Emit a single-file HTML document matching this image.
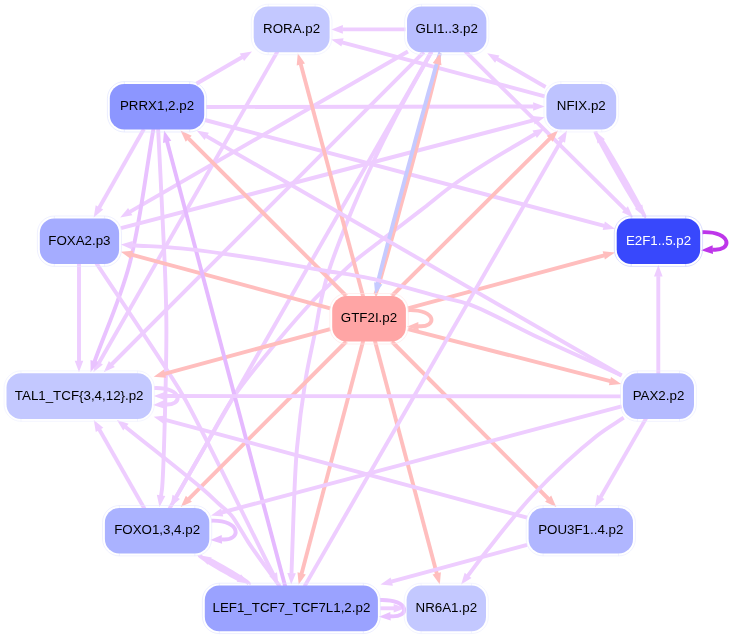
<!DOCTYPE html>
<html lang="en"><head><meta charset="utf-8"><title>Regulatory network</title>
<style>
html,body{margin:0;padding:0;background:#fff}
svg{display:block;will-change:transform}
svg text{font-family:"Liberation Sans",sans-serif;font-size:13.33px;text-anchor:middle}
</style></head><body>
<svg width="731" height="638" viewBox="0 0 731 638">
<rect width="731" height="638" fill="#fff"/>
<g fill="none" stroke-linecap="butt">
<path d="M702.2 232.2C732.7 231.2 732.7 251.7 712.3 249.6" stroke="#be36ea" stroke-width="3.9"/><polygon points="701.2,250.2 712.6,245.3 713,253.9" fill="#be36ea"/>
<path d="M644.3 216.6L644.4 216.6L644.2 215.6L643.3 213.5L641.8 210.4L639.8 206.5L637.3 201.9L634.5 196.6L631.3 190.9L627.9 184.8L624.3 178.5L620.7 172.1L617 165.8L613.4 159.6L609.9 153.7L606.7 148.2L603.7 143.3L601.8 140.4" stroke="#eecdff" stroke-width="3.9" stroke-linejoin="round"/><polygon points="595.4,131.4 604.9,139.3 597.5,143.6" fill="#eecdff"/>
<path d="M595.4 131.4L595.4 131.4L595.6 132.4L596.5 134.5L597.9 137.6L600 141.5L602.4 146.1L605.3 151.4L608.4 157.1L611.8 163.2L615.4 169.5L619.1 175.9L622.7 182.2L626.3 188.4L629.8 194.3L633.1 199.8L636.1 204.7L637.9 207.6" stroke="#eecdff" stroke-width="3.9" stroke-linejoin="round"/><polygon points="644.3,216.6 634.8,208.7 642.3,204.4" fill="#eecdff"/>
<path d="M545.6 87L496.8 58.8" stroke="#eecdff" stroke-width="3.9"/><polygon points="487.2,53.3 499.4,55.4 495.1,62.8" fill="#eecdff"/>
<path d="M544.7 96.3L342 42.3" stroke="#eecdff" stroke-width="3.9"/><polygon points="331.3,39.5 343.6,38.3 341.4,46.6" fill="#eecdff"/>
<path d="M405.5 29.4L342.4 29.4" stroke="#eecdff" stroke-width="3.9"/><polygon points="331.3,29.4 342.9,25.1 342.9,33.7" fill="#eecdff"/>
<path d="M407.9 51.5L129.8 211.9" stroke="#eecdff" stroke-width="3.9"/><polygon points="120.2,217.4 128.1,207.9 132.4,215.3" fill="#eecdff"/>
<path d="M423.8 52.2L111.5 364.5" stroke="#eecdff" stroke-width="3.9"/><polygon points="103.7,372.3 108.9,361.1 114.9,367.1" fill="#eecdff"/>
<path d="M431.5 51.7L176 497.3" stroke="#eecdff" stroke-width="3.9"/><polygon points="170.5,506.9 172.5,494.7 180,499" fill="#eecdff"/>
<path d="M431.4 51.7C419 74.4 404.3 100.2 394 120C386.2 134.9 381.2 144.8 374.4 159.5C366 177.4 355.8 200.4 347.9 220C340.6 238.1 332.9 258 328.2 272.8C324.9 283.3 323.3 290.7 321.2 300C319 309.7 317.7 318.7 315.5 330C312.7 344.6 308.4 361.9 305.5 380C302.1 401.1 298.9 426 296.9 449C294.9 472 294.3 496.2 293.4 518C292.6 537.5 292.2 555 291.5 573.5" stroke="#eecdff" stroke-width="3.9"/><polygon points="291.2,584.6 287.3,572.9 295.9,573.2" fill="#eecdff"/>
<path d="M465.1 51.1L625.2 209.6" stroke="#eecdff" stroke-width="3.9"/><polygon points="633.1,217.4 621.9,212.3 627.9,206.2" fill="#eecdff"/>
<path d="M277.5 51.4L99 362.7" stroke="#eecdff" stroke-width="3.9"/><polygon points="93.4,372.3 95.5,360.1 102.9,364.4" fill="#eecdff"/>
<path d="M196.4 83.7L242.4 57" stroke="#eecdff" stroke-width="3.9"/><polygon points="252,51.5 244.1,61 239.8,53.6" fill="#eecdff"/>
<path d="M206 107L533.6 106.5" stroke="#eecdff" stroke-width="3.9"/><polygon points="544.7,106.5 533.1,110.8 533.1,102.2" fill="#eecdff"/>
<path d="M205 120L604.3 225.9" stroke="#eecdff" stroke-width="3.9"/><polygon points="615,228.7 602.7,229.9 604.9,221.6" fill="#eecdff"/>
<path d="M143.9 129L99.2 207.7" stroke="#eecdff" stroke-width="3.9"/><polygon points="93.7,217.4 95.7,205.2 103.2,209.4" fill="#eecdff"/>
<path d="M153.5 128.6C145.4 174.1 140.3 223.8 129.3 265C119.8 300.5 106 329.6 94.4 361.9" stroke="#e9c2ff" stroke-width="3.9"/><polygon points="90.6,372.3 90.5,359.9 98.6,362.8" fill="#e9c2ff"/>
<path d="M158.1 128.6C160.3 174.1 163.4 227.9 164.8 265C165.7 290.6 166.4 303.6 166.4 330C166.4 371 163.8 466.9 162.2 487C161.8 491.8 161.4 492.9 161 495.9" stroke="#eecdff" stroke-width="3.9"/><polygon points="159.5,506.9 156.8,494.8 165.3,496" fill="#eecdff"/>
<path d="M121 228.2L534 120.1" stroke="#eecdff" stroke-width="3.9"/><polygon points="544.7,117.3 534.6,124.4 532.4,116.1" fill="#eecdff"/>
<path d="M79 263.5L79 361.2" stroke="#eecdff" stroke-width="3.9"/><polygon points="79,372.3 74.7,360.7 83.3,360.7" fill="#eecdff"/>
<path d="M96.3 263.1C119.9 298.7 151.2 345.2 167 370C175.3 383 177.5 385.6 185.5 400C204.4 433.9 244.1 516.5 273.4 574.7" stroke="#eecdff" stroke-width="3.9"/><polygon points="278.4,584.6 269.3,576.2 277,572.3" fill="#eecdff"/>
<path d="M154 388.1C183.5 387.1 183.5 406.5 164.1 404.4" stroke="#eecdff" stroke-width="3.9"/><polygon points="153,405 164.4,400.1 164.8,408.7" fill="#eecdff"/>
<path d="M169.5 508.6C180.7 489.1 192.2 469 203.1 450C213.3 432.1 222.5 413.7 232.9 398C242.2 384 250.7 373.9 262 360C276.6 342.1 300.1 314.4 313.7 300C321.8 291.4 327.3 286.7 334.2 280.2C341 273.7 347.2 267.4 354.7 261C363 253.9 373.9 246.1 382.1 239.8C388.7 234.7 393.6 231.1 400 226.2C407.5 220.5 416.1 213.9 424.4 207.5C433.1 200.7 441.4 193.5 451.1 186.5C462.1 178.5 474.3 170.6 487.3 162.4C502 153.1 519.2 143.5 535.2 134" stroke="#eecdff" stroke-width="3.9"/><polygon points="544.7,128.4 536.9,138 532.5,130.6" fill="#eecdff"/>
<path d="M144.5 508.8L99.3 429.5" stroke="#eecdff" stroke-width="3.9"/><polygon points="93.8,419.9 103.3,427.8 95.8,432.1" fill="#eecdff"/>
<path d="M211.3 520.7C241.8 519.7 241.8 541.5 221.4 539.4" stroke="#e9c2ff" stroke-width="3.9"/><polygon points="210.3,540 221.7,535.1 222.1,543.7" fill="#e9c2ff"/>
<path d="M363.2 296.8L300.7 64" stroke="#ffbebe" stroke-width="3.9"/><polygon points="297.8,53.3 305,63.4 296.7,65.6" fill="#ffbebe"/>
<path d="M375.2 294.6L375.3 294.6L376.2 292.3L378 286.9L380.5 278.6L383.6 267.8L387.3 254.9L391.4 240.3L395.9 224.2L400.5 207.1L405.4 189.3L410.3 171.2L415.1 153.2L419.8 135.6L424.2 118.8L428.3 103.1L431.9 88.9L435 76.5L437.5 66.4L438.1 63.9" stroke="#ffbebe" stroke-width="3.9" stroke-linejoin="round"/><polygon points="440.2,53 441.3,65.3 433,63.1" fill="#ffbebe"/>
<path d="M440.2 53L440.1 53L439.3 55.3L437.6 60.8L435.1 69.1L432.1 79.9L428.4 92.8L424.4 107.4L419.9 123.5L415.3 140.6L410.5 158.4L405.6 176.5L400.8 194.5L396.1 212.1L391.6 228.9L387.5 244.6L383.8 258.8L380.6 271.2L378.1 281.3L377.5 283.8" stroke="#c6caff" stroke-width="3.9" stroke-linejoin="round"/><polygon points="375.2,294.6 374.1,282.3 382.4,284.5" fill="#c6caff"/>
<polygon points="440.2,53 441.3,65.3 433,63.1" fill="#ffbebe"/>
<path d="M346.3 296L188.4 138.4" stroke="#ffbebe" stroke-width="3.9"/><polygon points="180.5,130.6 191.7,135.7 185.7,141.8" fill="#ffbebe"/>
<path d="M391.8 296L550.1 138.4" stroke="#ffbebe" stroke-width="3.9"/><polygon points="558,130.6 552.8,141.8 546.7,135.7" fill="#ffbebe"/>
<path d="M330.2 308.3L131.5 254.7" stroke="#ffbebe" stroke-width="3.9"/><polygon points="120.8,251.8 133.1,250.7 130.9,259" fill="#ffbebe"/>
<path d="M407.9 308.3L604.3 255.3" stroke="#ffbebe" stroke-width="3.9"/><polygon points="615,252.4 604.9,259.6 602.7,251.3" fill="#ffbebe"/>
<path d="M330.2 329.1L164.4 373.8" stroke="#ffbebe" stroke-width="3.9"/><polygon points="153.7,376.7 163.8,369.5 166,377.8" fill="#ffbebe"/>
<path d="M407.9 329.1L610.4 381.2" stroke="#ffbebe" stroke-width="3.9"/><polygon points="621.2,384 608.9,385.3 611,376.9" fill="#ffbebe"/>
<path d="M346.3 341.5L188.6 499.1" stroke="#ffbebe" stroke-width="3.9"/><polygon points="180.7,506.9 185.9,495.7 191.9,501.7" fill="#ffbebe"/>
<path d="M391.8 341.5L548.5 499" stroke="#ffbebe" stroke-width="3.9"/><polygon points="556.3,506.9 545.1,501.7 551.2,495.6" fill="#ffbebe"/>
<path d="M363.2 340.7L301.5 573.9" stroke="#ffbebe" stroke-width="3.9"/><polygon points="298.7,584.6 297.5,572.3 305.8,574.5" fill="#ffbebe"/>
<path d="M374.9 340.7L436.9 573.9" stroke="#ffbebe" stroke-width="3.9"/><polygon points="439.8,584.6 432.6,574.5 440.9,572.3" fill="#ffbebe"/>
<path d="M407.9 310.2C437.4 309.2 437.4 328.2 418 326.1" stroke="#ffbebe" stroke-width="3.9"/><polygon points="406.9,326.8 418.3,321.9 418.7,330.4" fill="#ffbebe"/>
<path d="M248.8 583.8L248.9 583.7L248.5 583.2L247.6 582.3L246 581.1L243.9 579.7L241.3 578L238.4 576.1L235.2 574.1L231.7 572L228.1 569.9L224.4 567.8L220.8 565.7L217.1 563.6L213.7 561.7L210.4 560L209.7 559.6" stroke="#eecdff" stroke-width="3.9" stroke-linejoin="round"/><polygon points="199.6,555.3 211.8,557.4 207.5,564.8" fill="#eecdff"/>
<path d="M199.6 555.3L199.6 555.4L199.9 555.9L200.9 556.8L202.5 558L204.6 559.4L207.1 561.1L210.1 563L213.3 565L216.7 567.1L220.3 569.2L224 571.3L227.7 573.4L231.3 575.5L234.8 577.4L238 579.1L238.8 579.5" stroke="#eecdff" stroke-width="3.9" stroke-linejoin="round"/><polygon points="248.8,583.8 236.7,581.7 241,574.3" fill="#eecdff"/>
<path d="M304.5 586.4L561.5 140.2" stroke="#eecdff" stroke-width="3.9"/><polygon points="567,130.6 565,142.8 557.5,138.5" fill="#eecdff"/>
<path d="M285.3 586.7L167 141.3" stroke="#e5b9ff" stroke-width="3.9"/><polygon points="164.1,130.6 171.3,140.7 163,142.9" fill="#e5b9ff"/>
<path d="M279.7 586.4C269.4 571.8 255.6 553.3 248.6 542.6C244.7 536.7 242.9 533.1 240 528.5C237.1 524 234.7 519.2 231.3 515.2C227.9 511.2 223.8 508.3 219.6 504.5C214.7 500 211.2 496.4 203.8 490C187.8 476.2 151.6 447.9 125.5 426.9" stroke="#eecdff" stroke-width="3.9"/><polygon points="116.9,419.9 128.6,423.8 123.2,430.5" fill="#eecdff"/>
<path d="M380.3 608.3L394.2 608.3" stroke="#eecdff" stroke-width="3.9"/><polygon points="405.3,608.3 393.7,612.6 393.7,604" fill="#eecdff"/>
<path d="M379.9 600C410.4 599 410.4 618.3 390 616.2" stroke="#e9c2ff" stroke-width="3.9"/><polygon points="378.9,616.8 390.3,611.9 390.7,620.5" fill="#e9c2ff"/>
<path d="M527.1 517.6L164.4 419.6" stroke="#eecdff" stroke-width="3.9"/><polygon points="153.7,416.7 166,415.6 163.8,423.9" fill="#eecdff"/>
<path d="M527.1 544.8L391.2 581.7" stroke="#eecdff" stroke-width="3.9"/><polygon points="380.5,584.6 390.6,577.4 392.9,585.7" fill="#eecdff"/>
<path d="M658.3 374L658.3 276.1" stroke="#eecdff" stroke-width="3.9"/><polygon points="658.3,265 662.6,276.6 654,276.6" fill="#eecdff"/>
<path d="M621.6 375.5L206.3 136.1" stroke="#eecdff" stroke-width="3.9"/><polygon points="196.7,130.6 208.9,132.7 204.6,140.1" fill="#eecdff"/>
<path d="M621.6 375.5C594.4 363.1 566.1 350.5 540 338.3C515.7 326.9 488.5 311.4 470 304.6C458.5 300.4 452.8 300.1 441 297C422.5 292.2 391.3 282.9 370 278.3C352.9 274.6 340.6 273.4 323.4 270.5C302.2 266.9 276 261.7 252.3 258C228.6 254.3 202.7 250.5 181.1 248.4C163.2 246.6 148.3 246.3 131.9 245.2" stroke="#eecdff" stroke-width="3.9"/><polygon points="120.8,244.5 132.7,241 132.1,249.5" fill="#eecdff"/>
<path d="M621 396.4L164.8 396" stroke="#eecdff" stroke-width="3.9"/><polygon points="153.7,396 165.3,391.7 165.3,400.3" fill="#eecdff"/>
<path d="M621.6 406.3L221.7 512.5" stroke="#eecdff" stroke-width="3.9"/><polygon points="211,515.4 221.1,508.3 223.3,516.6" fill="#eecdff"/>
<path d="M623.7 417.7C614.7 423.8 607.2 427.7 596.7 436C579.7 449.5 552.8 474.2 534 494C516.5 512.4 499.1 535.3 487 550.5C479.1 560.5 474.2 567.3 467.8 575.8" stroke="#eecdff" stroke-width="3.9"/><polygon points="461.1,584.6 464.7,572.8 471.5,578" fill="#eecdff"/>
<path d="M646.2 418.1L600.6 497.3" stroke="#eecdff" stroke-width="3.9"/><polygon points="595,506.9 597.1,494.7 604.5,499" fill="#eecdff"/>
</g>
<g fill="none">
<path d="M268.2 4.2H315.1A16.9 16.9 0 0 1 332 21.1V37.8A16.9 16.9 0 0 1 315.1 54.7H268.2A16.9 16.9 0 0 1 251.3 37.8V21.1A16.9 16.9 0 0 1 268.2 4.2ZM268.2 4.2v2.4M315.1 4.2v2.4M268.2 52.3v2.4M315.1 52.3v2.4" stroke="#edeeff" stroke-width="0.6"/><rect x="253.7" y="6.6" width="75.9" height="45.7" rx="14.5" fill="#c3c8ff"/><text x="291.6" y="33" fill="#000">RORA.p2</text>
<path d="M421.5 4.2H471.9A16.9 16.9 0 0 1 488.8 21.1V37.8A16.9 16.9 0 0 1 471.9 54.7H421.5A16.9 16.9 0 0 1 404.6 37.8V21.1A16.9 16.9 0 0 1 421.5 4.2ZM421.5 4.2v2.4M471.9 4.2v2.4M421.5 52.3v2.4M471.9 52.3v2.4" stroke="#eaecff" stroke-width="0.6"/><rect x="407" y="6.6" width="79.4" height="45.7" rx="14.5" fill="#b9beff"/><text x="446.7" y="33" fill="#000">GLI1..3.p2</text>
<path d="M124.3 81.6H189.7A16.9 16.9 0 0 1 206.6 98.5V115.1A16.9 16.9 0 0 1 189.7 132H124.3A16.9 16.9 0 0 1 107.4 115.1V98.5A16.9 16.9 0 0 1 124.3 81.6ZM124.3 81.6v2.4M189.7 81.6v2.4M124.3 129.6v2.4M189.7 129.6v2.4" stroke="#dce0ff" stroke-width="0.6"/><rect x="109.8" y="84" width="94.4" height="45.6" rx="14.5" fill="#8c96ff"/><text x="157" y="110.4" fill="#000">PRRX1,2.p2</text>
<path d="M560.9 81.6H601.7A16.9 16.9 0 0 1 618.6 98.5V115.1A16.9 16.9 0 0 1 601.7 132H560.9A16.9 16.9 0 0 1 544 115.1V98.5A16.9 16.9 0 0 1 560.9 81.6ZM560.9 81.6v2.4M601.7 81.6v2.4M560.9 129.6v2.4M601.7 129.6v2.4" stroke="#ecedff" stroke-width="0.6"/><rect x="546.4" y="84" width="69.8" height="45.6" rx="14.5" fill="#bec3ff"/><text x="581.3" y="110.4" fill="#000">NFIX.p2</text>
<path d="M54.3 216H104.6A16.9 16.9 0 0 1 121.5 232.9V249.5A16.9 16.9 0 0 1 104.6 266.4H54.3A16.9 16.9 0 0 1 37.4 249.5V232.9A16.9 16.9 0 0 1 54.3 216ZM54.3 216v2.4M104.6 216v2.4M54.3 264v2.4M104.6 264v2.4" stroke="#e4e6ff" stroke-width="0.6"/><rect x="39.8" y="218.4" width="79.3" height="45.6" rx="14.5" fill="#a5acff"/><text x="79.4" y="244.8" fill="#000">FOXA2.p3</text>
<path d="M631.2 216H685.7A16.9 16.9 0 0 1 702.6 232.9V249.5A16.9 16.9 0 0 1 685.7 266.4H631.2A16.9 16.9 0 0 1 614.3 249.5V232.9A16.9 16.9 0 0 1 631.2 216ZM631.2 216v2.4M685.7 216v2.4M631.2 264v2.4M685.7 264v2.4" stroke="#c3c8fe" stroke-width="0.6"/><rect x="616.7" y="218.4" width="83.5" height="45.6" rx="14.5" fill="#3848fc"/><text x="658.5" y="244.8" fill="#fff">E2F1..5.p2</text>
<path d="M346.7 293.5H391.4A16.9 16.9 0 0 1 408.3 310.4V327.1A16.9 16.9 0 0 1 391.4 344H346.7A16.9 16.9 0 0 1 329.8 327.1V310.4A16.9 16.9 0 0 1 346.7 293.5ZM346.7 293.5v2.4M391.4 293.5v2.4M346.7 341.6v2.4M391.4 341.6v2.4" stroke="#ffe4e4" stroke-width="0.6"/><rect x="332.2" y="295.9" width="73.7" height="45.7" rx="14.5" fill="#ffa5a5"/><text x="369" y="322.4" fill="#000">GTF2I.p2</text>
<path d="M21 370.9H137.5A16.9 16.9 0 0 1 154.4 387.8V404.4A16.9 16.9 0 0 1 137.5 421.3H21A16.9 16.9 0 0 1 4.1 404.4V387.8A16.9 16.9 0 0 1 21 370.9ZM21 370.9v2.4M137.5 370.9v2.4M21 418.9v2.4M137.5 418.9v2.4" stroke="#edeeff" stroke-width="0.6"/><rect x="6.5" y="373.3" width="145.5" height="45.6" rx="14.5" fill="#c3c8ff"/><text x="79.2" y="399.7" fill="#000">TAL1_TCF{3,4,12}.p2</text>
<path d="M637.4 370.9H679.5A16.9 16.9 0 0 1 696.4 387.8V404.4A16.9 16.9 0 0 1 679.5 421.3H637.4A16.9 16.9 0 0 1 620.5 404.4V387.8A16.9 16.9 0 0 1 637.4 370.9ZM637.4 370.9v2.4M679.5 370.9v2.4M637.4 418.9v2.4M679.5 418.9v2.4" stroke="#e8eaff" stroke-width="0.6"/><rect x="622.9" y="373.3" width="71.1" height="45.6" rx="14.5" fill="#b4baff"/><text x="658.5" y="399.7" fill="#000">PAX2.p2</text>
<path d="M119.4 505.5H194.8A16.9 16.9 0 0 1 211.7 522.4V539A16.9 16.9 0 0 1 194.8 555.9H119.4A16.9 16.9 0 0 1 102.5 539V522.4A16.9 16.9 0 0 1 119.4 505.5ZM119.4 505.5v2.4M194.8 505.5v2.4M119.4 553.5v2.4M194.8 553.5v2.4" stroke="#e6e8ff" stroke-width="0.6"/><rect x="104.9" y="507.9" width="104.4" height="45.6" rx="14.5" fill="#aab2ff"/><text x="157.1" y="534.3" fill="#000">FOXO1,3,4.p2</text>
<path d="M543.1 505.5H618.5A16.9 16.9 0 0 1 635.4 522.4V539A16.9 16.9 0 0 1 618.5 555.9H543.1A16.9 16.9 0 0 1 526.2 539V522.4A16.9 16.9 0 0 1 543.1 505.5ZM543.1 505.5v2.4M618.5 505.5v2.4M543.1 553.5v2.4M618.5 553.5v2.4" stroke="#e7e9ff" stroke-width="0.6"/><rect x="528.6" y="507.9" width="104.4" height="45.6" rx="14.5" fill="#b0b6ff"/><text x="580.8" y="534.3" fill="#000">POU3F1..4.p2</text>
<path d="M219.3 583.2H363.4A16.9 16.9 0 0 1 380.3 600.1V616.7A16.9 16.9 0 0 1 363.4 633.6H219.3A16.9 16.9 0 0 1 202.4 616.7V600.1A16.9 16.9 0 0 1 219.3 583.2ZM219.3 583.2v2.4M363.4 583.2v2.4M219.3 631.2v2.4M363.4 631.2v2.4" stroke="#e1e3ff" stroke-width="0.6"/><rect x="204.8" y="585.6" width="173.1" height="45.6" rx="14.5" fill="#9aa2ff"/><text x="291.4" y="612" fill="#000">LEF1_TCF7_TCF7L1,2.p2</text>
<path d="M421.1 583.2H471.5A16.9 16.9 0 0 1 488.4 600.1V616.7A16.9 16.9 0 0 1 471.5 633.6H421.1A16.9 16.9 0 0 1 404.2 616.7V600.1A16.9 16.9 0 0 1 421.1 583.2ZM421.1 583.2v2.4M471.5 583.2v2.4M421.1 631.2v2.4M471.5 631.2v2.4" stroke="#edeeff" stroke-width="0.6"/><rect x="406.6" y="585.6" width="79.4" height="45.6" rx="14.5" fill="#c3c8ff"/><text x="446.3" y="612" fill="#000">NR6A1.p2</text>
</g>
</svg>
</body></html>
